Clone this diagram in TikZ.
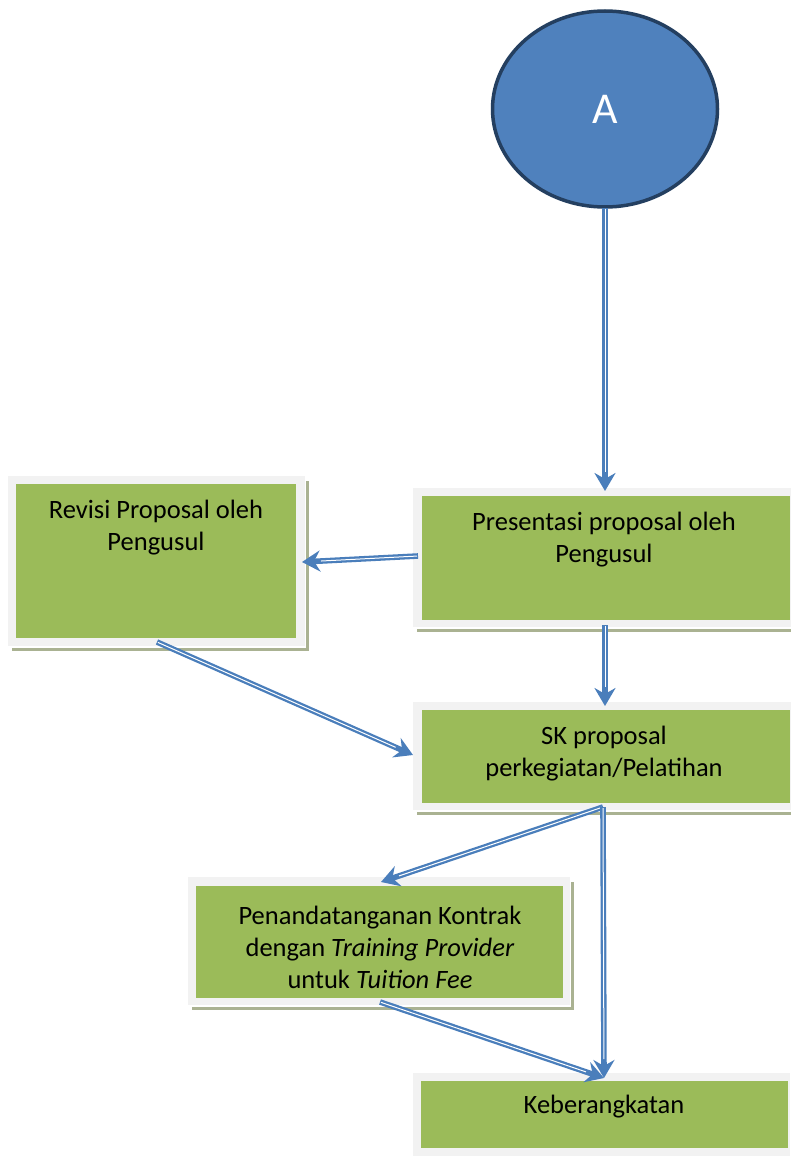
\documentclass[tikz,border=0pt]{standalone}
\usepackage{fontspec}
\setmainfont{Carlito}
\usetikzlibrary{arrows.meta,shapes.geometric}
\definecolor{boxgreen}{HTML}{9BBB59}
\definecolor{framegray}{HTML}{F2F2F2}
\definecolor{shadowgray}{HTML}{AAB292}
\definecolor{arrowblue}{HTML}{4A7EBB}
\definecolor{circfill}{HTML}{4F81BD}
\definecolor{circline}{HTML}{243F60}
\tikzset{
  greenbox/.style={fill=boxgreen, draw=none, inner sep=0pt, anchor=north west},
  txt/.style={align=center, font=\fontsize{26.5}{32}\selectfont, inner sep=0pt},
  flowarrow/.style={draw=arrowblue, line width=5.6pt,
     -{Stealth[length=18pt,width=21pt,inset=6pt]},
     postaction={draw=white, line width=1pt, -, shorten >=19pt, shorten <=1pt}},
}
\newcommand{\myframe}[4]{%
  \fill[shadowgray] (#1+4,#2+5) rectangle (#3+4,#4+5);
  \fill[white] (#1+4,#2+5) rectangle (#3+1,#4+2);
  \fill[framegray] (#1,#2) rectangle (#3,#4);
}
\begin{document}
\begin{tikzpicture}[x=1pt,y=-1pt]
\useasboundingbox (0,0) rectangle (790,1156);
\fill[white] (0,0) rectangle (790,1156);

% circle A
\node[ellipse, fill=circfill, draw=circline, line width=3.5pt, minimum width=225pt, minimum height=196pt, inner sep=0pt,
  text=white, font=\fontsize{44}{50}\selectfont] (a) at (605,109) {A};

% frames
\myframe{413}{488}{795}{627}
\myframe{8}{476}{305}{646}
\myframe{413}{702}{795}{810}
\myframe{188}{877}{570}{1005}
\fill[framegray] (413,1073) rectangle (790,1156);

% green boxes
\node[greenbox, minimum width=368pt, minimum height=124pt] (pres) at (422,496) {};
\node[greenbox, minimum width=280pt, minimum height=154pt] (rev) at (16,484) {};
\node[greenbox, minimum width=368pt, minimum height=93pt] (sk) at (422,710) {};
\node[greenbox, minimum width=367pt, minimum height=112pt] (pen) at (196,886) {};
\node[greenbox, minimum width=367pt, minimum height=67pt] (keb) at (421,1081) {};

% texts
\node[txt] (prestxt) at (604,540) {Presentasi proposal oleh\\Pengusul};
\node[txt] (revtxt) at (156,528) {Revisi Proposal oleh\\Pengusul};
\node[txt] (sktxt) at (604,754) {SK proposal\\perkegiatan/Pelatihan};
\node[txt] (pentxt) at (380,947) {Penandatanganan Kontrak\\dengan \textit{Training Provider}\\untuk \textit{Tuition Fee}};
\node[txt] (kebtxt) at (604,1107) {Keberangkatan};

% connector end points
\coordinate (a1) at (605,208);
\coordinate (p1) at (605,491);
\coordinate (p2) at (418,556);
\coordinate (r1) at (302,562);
\coordinate (p3) at (605,625);
\coordinate (s1) at (605,706);
\coordinate (r2) at (157,642);
\coordinate (s2) at (413,755);
\coordinate (s3) at (603,807);
\coordinate (n1) at (381,882);
\coordinate (k1) at (604,1078);
\coordinate (n2) at (380,1002);

\draw[flowarrow] (a1) -- (p1);
\draw[flowarrow] (p2) -- (r1);
\draw[flowarrow] (p3) -- (s1);
\draw[flowarrow] (r2) -- (s2);
\draw[flowarrow] (s3) -- (n1);
\draw[flowarrow] (s3) -- (k1);
\draw[flowarrow] (n2) -- (k1);
\end{tikzpicture}
\end{document}
